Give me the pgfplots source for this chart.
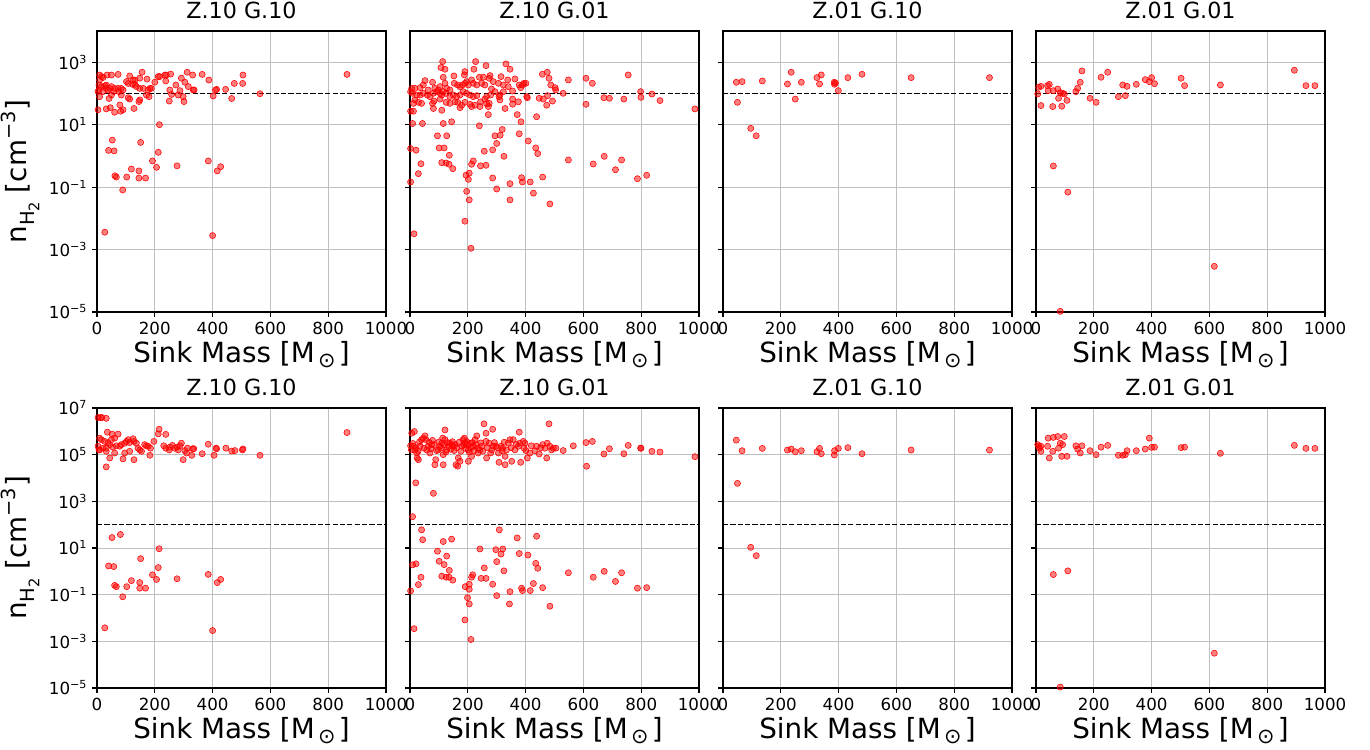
\documentclass[border=0pt]{standalone}
\usepackage{fontspec}
\setmainfont{DejaVu Sans}
\usepackage{graphicx}
\usepackage{pgfplots}
\pgfplotsset{compat=1.18}
\newcommand{\msun}{M\kern0.12em\raisebox{-0.2em}{\scalebox{0.75}{⊙}}\kern0.12em}
\newcommand{\nhtwo}{n\raisebox{-0.3em}{\scalebox{0.7}{H\raisebox{-0.25em}{\scalebox{0.75}{2}}}}}
\pgfplotsset{
  mypanel/.style={
    scale only axis, width=208.08pt,
    xmin=0, xmax=1000,
    xtick={0,200,400,600,800,1000},
    xticklabels={0,200,400,600,800,1000},
    grid=major,
    major grid style={color=black!25, line width=0.6pt},
    tick align=outside, tick pos=left,
    major tick length=3.5pt,
    tick style={black, line width=0.8pt},
    minor y tick style={draw=none},
    axis line style={line width=1.2pt},
    title style={font=\fontsize{16}{18}\selectfont, yshift=-1pt},
    tick label style={font=\fontsize{12}{14}\selectfont},
    label style={font=\fontsize{20}{24}\selectfont},
    xlabel={Sink Mass [\msun]},
    xlabel style={yshift=2pt},
  },
  mytop/.style={mypanel, height=202.32pt, ymin=1e-5, ymax=1e4,
    ytick={1e-5,1e-3,1e-1,1e1,1e3}},
  mybot/.style={mypanel, height=201.6pt, ymin=1e-5, ymax=1e7,
    ytick={1e-5,1e-3,1e-1,1e1,1e3,1e5,1e7}},
  mytoplab/.style={yticklabels={10\textsuperscript{−5},10\textsuperscript{−3},10\textsuperscript{−1},10\textsuperscript{1},10\textsuperscript{3}},
    ylabel={\nhtwo\ [cm\textsuperscript{−3}]}},
  mybotlab/.style={yticklabels={10\textsuperscript{−5},10\textsuperscript{−3},10\textsuperscript{−1},10\textsuperscript{1},10\textsuperscript{3},10\textsuperscript{5},10\textsuperscript{7}},
    ylabel={\nhtwo\ [cm\textsuperscript{−3}]}},
  mynolab/.style={yticklabels={}},
  mypts/.style={only marks, mark=*, mark size=2.2pt, color=red,
    mark options={fill=red, draw=none, fill opacity=0.5}},
  mythr/.style={black, line width=1pt, dash pattern=on 3.7pt off 1.6pt},
}
\begin{document}
\begin{tikzpicture}
\path[use as bounding box] (0pt,0pt) rectangle (986.4pt,539.28pt);
% ---------------- top row ----------------
\begin{semilogyaxis}[mytop, mytoplab, at={(69.84pt,314.64pt)}, anchor=south west, title={Z.10 G.10}]
\addplot[mypts] coordinates {
(9,389) (16,347) (21,324) (35,389) (50,389) (73,407) (9,269) (7,186) (15,166) (27,174) (32,186) (32,145) (38,129) (7,129) (3.5,115) (21,115) (44,145) (50,166) (61,145) (58,115) (73,145) (84,145) (90,129) (76,115) (50,89) (42,69) (9,79) (84,89) (102,240) (108,209) (113,363) (123,195) (131,195) (136,166) (125,269) (131,269) (148,309) (156,478) (173,288) (148,145) (160,145) (177,129) (183,145) (188,145) (200,229) (212,347) (217,347) (235,389) (240,389) (238,251) (255,417) (273,186) (252,129) (258,93) (281,89) (287,123) (298,79) (292,309) (304,229) (312,478) (316,166) (331,389) (333,129) (336,129) (364,407) (387,269) (402,83) (410,129) (414,135) (445,135) (466,69) (475,209) (504,209) (505,389) (564,98) (865,407)
(3.5,30) (32,32) (46,35) (61,25) (79,43) (82,27) (90,30) (128,33) (145,55) (148,62) (108,73) (113,66) (250,57) (301,55) (180,79) (171,89) (216,10)
(53,3.2) (40,1.5) (59,1.45) (151,2.7) (212,1.3) (192,0.69) (206,0.43) (277,0.48) (385,0.69) (416,0.33) (428,0.45) (62,0.23) (67,0.21) (103,0.21) (119,0.38) (145,0.33) (145,0.195) (168,0.195) (89,0.081) (27,0.0036) (400,0.0028)
};
\addplot[mythr] coordinates {(0,100) (1000,100)};
\end{semilogyaxis}
\begin{semilogyaxis}[mytop, mynolab, at={(295.2pt,314.64pt)}, anchor=south west, title={Z.10 G.01}]
\addplot[mypts] coordinates {
(113,1050) (107,674) (121,596) (227,1050) (221,596) (190,501) (188,392) (263,781) (332,884) (346,596) (458,411) (475,477) (481,306) (548,271) (609,306) (631,211) (755,392) (487,187) (502,153) (504,129) (315,346) (277,373) (254,330) (240,330) (152,364) (115,330) (52,258) (78,228) (46,187) (35,153) (17,146) (6,146) (63,129) (86,146) (98,129) (104,165) (121,211) (127,146) (138,129) (153,211) (165,187) (173,165) (182,187) (190,211) (196,239) (202,187) (213,271) (219,211) (231,187) (248,211) (259,187) (274,306) (282,139) (288,239) (306,211) (323,187) (338,271) (340,165) (363,291) (383,153) (389,187) (394,211) (401,211) (378,187) (355,120) (323,114) (311,89) (294,114) (279,89) (265,79) (259,66) (244,54) (231,85) (219,79) (208,89) (196,101) (184,114) (173,89) (161,79) (150,89) (138,79) (125,101) (115,114) (110,89) (104,101) (92,114) (81,101) (69,79) (60,89) (46,101) (35,89) (23,89) (9,101) (2,114) (17,62) (29,52) (40,48) (12,48) (78,48) (83,57) (104,66) (125,52) (138,48) (156,54) (165,52) (179,42) (190,52) (208,45) (213,38) (225,42) (242,38) (271,38) (265,47) (274,48) (308,79) (311,62) (329,33) (355,66) (375,54) (355,45) (404,79) (406,73) (447,70) (461,66) (476,85) (473,42) (493,57) (530,101) (609,45) (671,73) (690,70) (740,66) (798,114) (799,75) (837,96) (865,59) (986,32) (81,33) (110,29) (173,35) (271,21) (371,21) (438,18) (12,27) (2,27)
(9,10.9) (43,10.9) (115,10.9) (144,12.4) (240,9.2) (95,4.4) (127,4.4) (294,4.4) (312,4.6) (319,7.0) (378,5.1) (384,12.4) (409,3.0)
(101,1.8) (118,1.8) (136,1.05) (300,2.5) (286,1.56) (257,1.41) (325,0.97) (435,1.8) (442,1.19) (2,1.72) (21,1.52) (38,0.56) (29,0.27) (110,0.61) (125,0.59) (135,0.54) (148,0.39) (213,0.54) (219,0.69) (244,0.48) (263,0.50) (286,0.196) (194,0.24) (202,0.177) (205,0.28) (196,0.073) (205,0.039) (190,0.0081) (211,0.0011) (300,0.087) (346,0.129) (346,0.039) (386,0.20) (389,0.146) (416,0.146) (427,0.064) (459,0.21) (484,0.029) (548,0.74) (634,0.55) (672,0.97) (711,0.36) (732,0.74) (787,0.186) (819,0.24) (2,0.146) (14,0.0032)
};
\addplot[mythr] coordinates {(0,100) (1000,100)};
\end{semilogyaxis}
\begin{semilogyaxis}[mytop, mynolab, at={(520.56pt,314.64pt)}, anchor=south west, title={Z.01 G.10}]
\addplot[mypts] coordinates {
(46,228) (66,239) (50,52) (136,251) (223,201) (236,477) (250,66) (271,228) (325,321) (334,201) (340,392) (385,228) (386,196) (389,216) (399,123) (432,321) (481,411) (651,321) (922,321) (96,7.6) (115,4.4)
};
\addplot[mythr] coordinates {(0,100) (1000,100)};
\end{semilogyaxis}
\begin{semilogyaxis}[mytop, mynolab, at={(745.92pt,314.64pt)}, anchor=south west, title={Z.01 G.01}]
\addplot[mypts] coordinates {
(6,96) (9,157) (17,169) (40,178) (46,196) (42,123) (60,123) (75,139) (78,70) (84,106) (92,101) (98,96) (107,60) (89,39) (58,38) (17,41) (138,114) (144,146) (153,228) (159,526) (187,70) (208,52) (225,330) (248,477) (285,79) (300,187) (309,85) (315,169) (347,196) (378,277) (392,239) (400,321) (410,206) (502,306) (514,178) (638,187) (894,553) (934,178) (965,178) (60,0.475) (110,0.069) (617,0.00029) (84,1.05e-5)
};
\addplot[mythr] coordinates {(0,100) (1000,100)};
\end{semilogyaxis}
% ---------------- bottom row ----------------
\begin{semilogyaxis}[mybot, mybotlab, at={(69.84pt,43.92pt)}, anchor=south west, title={Z.10 G.10}]
\addplot[mypts] coordinates {
(3.5,3.9e6) (12,3.9e6) (17,3.9e6) (32,3.6e6) (36,9.2e5) (52,7.6e5) (73,7.6e5) (61,5.1e5) (9,5.1e5) (15,4.4e5) (27,3.7e5) (38,3.3e5) (50,4.4e5) (3.5,2.3e5) (7,1.6e5) (21,1.9e5) (32,1.9e5) (44,2.7e5) (55,2.1e5) (67,2.4e5) (79,2.3e5) (84,2.7e5) (96,3.1e5) (102,3.7e5) (108,4.4e5) (113,3.3e5) (125,4.8e5) (128,3.7e5) (136,3.1e5) (142,1.9e5) (148,1.6e5) (154,1.39e5) (165,2.7e5) (171,2.4e5) (177,2.3e5) (185,1.9e5) (197,3.7e5) (212,7.8e5) (215,1.23e6) (238,7.4e5) (231,2.4e5) (238,1.9e5) (250,1.6e5) (252,2.1e5) (261,2.5e5) (269,1.9e5) (277,2.1e5) (287,2.4e5) (292,3.1e5) (281,1.6e5) (304,1.5e5) (310,1.18e5) (313,1.9e5) (331,1.8e5) (335,1.8e5) (364,1.1e5) (385,2.8e5) (405,9.4e4) (412,1.9e5) (414,1.8e5) (446,1.9e5) (466,1.43e5) (477,1.5e5) (503,1.6e5) (505,1.75e5) (564,9.4e4) (865,8.9e5)
(32,3.0e4) (44,7.2e4) (90,6.6e4) (128,6.1e4) (183,9.4e4) (298,6.1e4) (328,9.4e4) (9,1.6e5) (32,1.39e5) (61,1.18e5) (96,1.18e5) (113,1.39e5)
(52,28) (81,38) (215,9.3) (40,1.7) (58,1.6) (151,3.5) (212,1.45) (61,0.25) (67,0.22) (103,0.22) (119,0.40) (148,0.33) (148,0.19) (168,0.19) (192,0.71) (206,0.45) (277,0.48) (385,0.74) (416,0.33) (428,0.45) (89,0.081) (27,0.0038) (400,0.0029)
};
\addplot[mythr] coordinates {(0,100) (1000,100)};
\end{semilogyaxis}
\begin{semilogyaxis}[mybot, mynolab, at={(295.2pt,43.92pt)}, anchor=south west, title={Z.10 G.01}]
\addplot[mypts] coordinates {
(6,8.3e5) (15,9.8e5) (2,2.4e5) (12,2.3e5) (17,1.6e5) (25,7.2e4) (29,6.1e4) (23,1.18e5) (35,2.3e5) (40,4.4e5) (46,5.1e5) (52,6.4e5) (55,4.4e5) (63,2.3e5) (69,1.18e5) (78,4.1e5) (83,2.7e5) (89,6.1e4) (86,3.7e4) (98,1.6e5) (104,2.3e5) (110,3.1e5) (113,5.1e5) (115,1e5) (115,3.7e4) (121,1.15e6) (121,4.4e5) (127,1.6e5) (133,2.3e5) (138,3.1e5) (144,2.7e5) (150,2.3e5) (156,2.7e5) (159,3.7e4) (165,3.2e4) (167,7.2e4) (173,5.2e4) (179,2.3e5) (184,4.4e5) (188,5.1e5) (190,3.1e5) (196,3.7e5) (202,1.6e5) (202,5.2e4) (208,3.1e5) (213,8.5e4) (219,2.3e5) (225,4.4e5) (231,6.4e5) (236,1.18e5) (242,1.6e5) (248,2.3e5) (256,2.1e6) (263,8.3e5) (263,3.7e5) (265,7.2e4) (274,3.1e5) (279,1.18e5) (286,1.23e6) (288,2.3e5) (297,2.3e5) (306,1.18e5) (308,4.7e4) (315,2.3e5) (321,1.9e5) (329,8.5e4) (329,3.7e4) (334,1.6e5) (340,3.1e5) (346,4.4e5) (352,5.2e4) (357,4.4e5) (363,1.6e5) (375,2.3e5) (378,9.2e5) (380,3.1e5) (383,4.7e4) (392,3.7e5) (398,3.1e5) (401,1.5e5) (406,7.2e4) (415,1.18e5) (432,1.48e5) (438,2.3e5) (447,1.07e5) (459,2.7e5) (467,1.9e5) (473,7.2e4) (475,3.1e5) (481,2.1e6) (484,2.3e5) (490,1.6e5) (496,1.9e5) (505,1.9e5) (530,1.5e5) (565,2.4e5) (609,3.3e5) (611,3.2e4) (631,3.7e5) (671,1.07e5) (690,1.8e5) (740,1.1e5) (755,2.5e5) (798,1.9e5) (799,1.9e5) (837,1.39e5) (865,1.3e5) (986,8.2e4)
(5,1.6e5) (10,3e5) (20,2e5) (28,1.4e5) (33,3.5e5) (48,1.9e5) (58,1.6e5) (66,3.4e5) (72,1.8e5) (75,2.7e5) (92,1.5e5) (100,3.5e5) (107,1.9e5) (118,2.6e5) (124,1.3e5) (130,3.3e5) (141,1.7e5) (147,3.6e5) (153,1.5e5) (162,2.0e5) (170,3.4e5) (176,1.4e5) (186,2.6e5) (193,1.8e5) (199,2.8e5) (205,1.3e5) (211,2.0e5) (216,3.3e5) (222,1.5e5) (228,2.7e5) (234,1.9e5) (245,3.2e5) (252,1.4e5) (268,2.0e5) (283,1.6e5) (292,3.3e5) (302,2.0e5) (318,1.5e5) (326,3.4e5) (350,2.0e5) (368,2.8e5) (395,1.9e5) (420,2.4e5) (452,2.0e5)
(20,6.2e3) (81,2.2e3) (9,220) (40,60) (44,22.6) (309,60) (371,27) (438,32) (95,7.3) (115,19) (144,24) (127,4.5) (101,2.7) (118,1.95) (136,1.1) (2,0.145) (9,1.9) (21,2.1) (38,0.56) (29,0.27) (110,0.62) (125,0.56) (135,0.56) (148,0.42) (242,9.1) (257,1.41) (246,0.50) (263,0.50) (217,0.71) (213,0.56) (205,0.28) (191,0.22) (205,0.17) (199,0.074) (205,0.040) (190,0.0083) (211,0.0012) (297,8.5) (300,2.6) (315,5.5) (321,9.1) (325,1.05) (286,0.28) (300,0.091) (346,0.135) (344,0.040) (378,5.8) (386,0.19) (389,0.15) (408,5.0) (416,0.15) (427,0.30) (435,2.2) (442,1.35) (459,0.20) (484,0.032) (548,0.87) (634,0.56) (672,1.0) (711,0.37) (732,0.87) (787,0.19) (819,0.20) (14,0.0035)
};
\addplot[mythr] coordinates {(0,100) (1000,100)};
\end{semilogyaxis}
\begin{semilogyaxis}[mybot, mynolab, at={(520.56pt,43.92pt)}, anchor=south west, title={Z.01 G.10}]
\addplot[mypts] coordinates {
(46,4.2e5) (66,1.48e5) (50,5.9e3) (136,1.86e5) (223,1.58e5) (236,1.74e5) (250,1.34e5) (271,1.48e5) (325,1.34e5) (334,1.86e5) (340,1.1e5) (385,9.7e4) (386,1.48e5) (399,1.86e5) (432,2.0e5) (481,1.1e5) (651,1.58e5) (922,1.58e5) (96,10.7) (115,4.7)
};
\addplot[mythr] coordinates {(0,100) (1000,100)};
\end{semilogyaxis}
\begin{semilogyaxis}[mybot, mynolab, at={(745.92pt,43.92pt)}, anchor=south west, title={Z.01 G.01}]
\addplot[mypts] coordinates {
(6,2.7e5) (9,2.3e5) (17,2.3e5) (12,1.9e5) (17,1.39e5) (40,2.3e5) (46,7.2e4) (42,5.1e5) (58,1.39e5) (60,5.5e5) (75,6.0e5) (78,1.9e5) (84,3.1e5) (89,8.5e4) (92,2.7e5) (98,6.0e5) (107,8.5e4) (138,2.4e5) (144,1.74e5) (153,1.18e5) (159,2.4e5) (187,1.48e5) (208,1e5) (225,2.1e5) (248,2.5e5) (285,9.4e4) (300,9.4e4) (309,1e5) (315,1.48e5) (347,1.48e5) (378,1.74e5) (392,5.1e5) (400,2.05e5) (410,2.1e5) (502,2.0e5) (514,2.1e5) (638,1.14e5) (894,2.5e5) (934,1.86e5) (965,1.86e5) (60,0.73) (110,1.05) (617,0.00031) (84,1.1e-5)
};
\addplot[mythr] coordinates {(0,100) (1000,100)};
\end{semilogyaxis}
\end{tikzpicture}
\end{document}
